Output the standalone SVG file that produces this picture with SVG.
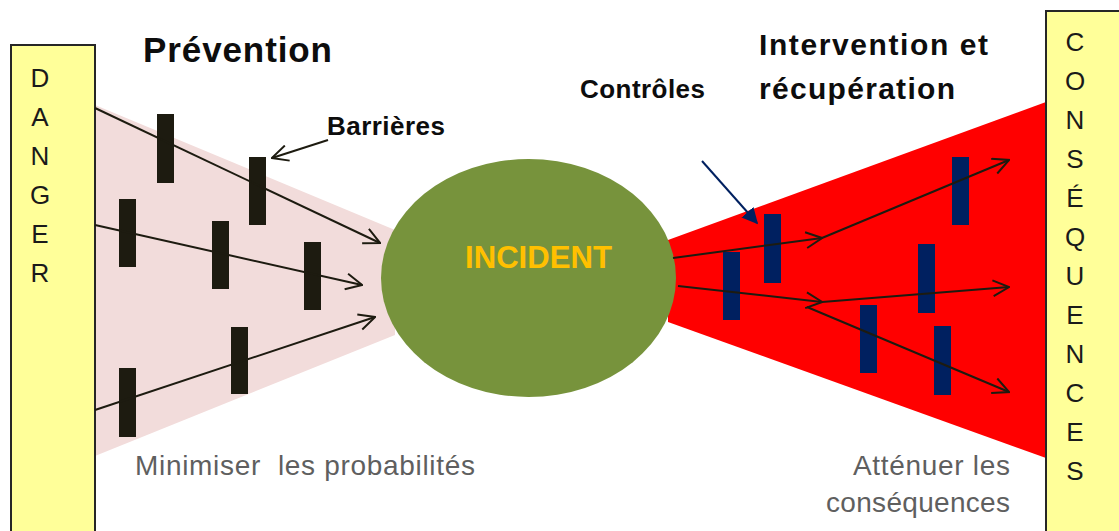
<svg xmlns="http://www.w3.org/2000/svg" width="1119" height="531" viewBox="0 0 1119 531">
<style>
.box{fill:#FFFF99;stroke:#262626;stroke-width:2}
.vl{font-family:"Liberation Sans",Arial,sans-serif;font-size:26px;fill:#1a1a1a;text-anchor:middle}
.bar{fill:#1D1B10}
.nbar{fill:#002060}
.ln{stroke:#1D1B10;stroke-width:2;fill:none;marker-end:url(#open)}
.title{font-family:"Liberation Sans",Arial,sans-serif;font-weight:bold;fill:#0d0d0d}
.note{font-family:"Liberation Sans",Arial,sans-serif;font-size:28px;fill:#5f5f5f}
</style>
<defs>
<marker id="open" viewBox="0 0 10 10" refX="9.4" refY="5" markerWidth="9" markerHeight="9" orient="auto" markerUnits="strokeWidth">
<path d="M0.5,0.6 L9.5,5 L0.5,9.4" fill="none" stroke="#1D1B10" stroke-width="1.1"/>
</marker>
<marker id="solid" viewBox="0 0 10 10" refX="9" refY="5" markerWidth="16" markerHeight="16" orient="auto" markerUnits="userSpaceOnUse">
<path d="M0,0 L10,5 L0,10 Z" fill="#002060"/>
</marker>
</defs>
<rect width="1119" height="531" fill="#ffffff"/>
<g id="zones">
<polygon points="95,105 395,230 395,335 95,456" fill="#F2DCDB"/>
<polygon points="668,240 1046,102 1046,458 668,322" fill="#FF0000"/>
</g>
<g id="danger">
<rect class="box" x="11" y="45" width="84" height="500"/>
<text class="vl" x="40" y="87">D</text>
<text class="vl" x="40" y="126">A</text>
<text class="vl" x="40" y="165">N</text>
<text class="vl" x="40" y="204">G</text>
<text class="vl" x="40" y="243">E</text>
<text class="vl" x="40" y="282">R</text>
</g>
<g id="consequences">
<rect class="box" x="1046" y="11" width="90" height="540"/>
<text class="vl" x="1075" y="51">C</text>
<text class="vl" x="1075" y="90">O</text>
<text class="vl" x="1075" y="129">N</text>
<text class="vl" x="1075" y="168">S</text>
<text class="vl" x="1075" y="207">É</text>
<text class="vl" x="1075" y="246">Q</text>
<text class="vl" x="1075" y="285">U</text>
<text class="vl" x="1075" y="324">E</text>
<text class="vl" x="1075" y="363">N</text>
<text class="vl" x="1075" y="402">C</text>
<text class="vl" x="1075" y="441">E</text>
<text class="vl" x="1075" y="480">S</text>
</g>
<g id="incident">
<ellipse cx="528.5" cy="278" rx="147.5" ry="119" fill="#77933C"/>
<text x="538.5" y="268" text-anchor="middle" font-family="Liberation Sans, Arial, sans-serif" font-weight="bold" font-size="31" fill="#FFC000" textLength="147" lengthAdjust="spacingAndGlyphs">INCIDENT</text>
</g>
<g id="barriers">
<rect class="bar" x="157" y="114" width="17" height="69"/>
<rect class="bar" x="249" y="157" width="17" height="68"/>
<rect class="bar" x="119" y="199" width="17" height="68"/>
<rect class="bar" x="212" y="221" width="17" height="68"/>
<rect class="bar" x="304" y="242" width="17" height="68"/>
<rect class="bar" x="231" y="327" width="17" height="67"/>
<rect class="bar" x="119" y="368" width="17" height="69"/>
</g>
<g id="controls">
<rect class="nbar" x="723" y="252" width="17" height="68"/>
<rect class="nbar" x="764" y="214" width="17" height="69"/>
<rect class="nbar" x="952" y="157" width="17" height="68"/>
<rect class="nbar" x="918" y="244" width="17" height="69"/>
<rect class="nbar" x="860" y="305" width="17" height="68"/>
<rect class="nbar" x="934" y="326" width="17" height="69"/>
</g>
<g id="connectors">
<line class="ln" x1="95" y1="108" x2="380" y2="243"/>
<line class="ln" x1="95" y1="225" x2="362" y2="285"/>
<line class="ln" x1="95" y1="410" x2="375" y2="317"/>
<line class="ln" x1="328" y1="140" x2="272" y2="158"/>
<line class="ln" x1="673" y1="258" x2="822" y2="238"/>
<line class="ln" x1="822" y1="238" x2="1009" y2="160"/>
<line class="ln" x1="678" y1="286" x2="822" y2="302"/>
<line class="ln" x1="822" y1="302" x2="1009" y2="287"/>
<line class="ln" x1="807" y1="307" x2="1009" y2="392"/>
<line x1="702" y1="161" x2="757" y2="223" stroke="#002060" stroke-width="2" marker-end="url(#solid)"/>
</g>
<g id="labels">
<text class="title" x="143" y="62" font-size="35" textLength="189">Prévention</text>
<text class="title" x="327" y="135" font-size="26" textLength="118">Barrières</text>
<text class="title" x="580" y="98" font-size="26" textLength="125">Contrôles</text>
<text class="title" x="759" y="55" font-size="30" textLength="229">Intervention et</text>
<text class="title" x="759" y="99" font-size="30" textLength="196">récupération</text>
<text class="note" x="135" y="475" textLength="340" xml:space="preserve">Minimiser  les probabilités</text>
<text class="note" x="853" y="475" textLength="157">Atténuer les</text>
<text class="note" x="826" y="512" textLength="184">conséquences</text>
</g>
</svg>
